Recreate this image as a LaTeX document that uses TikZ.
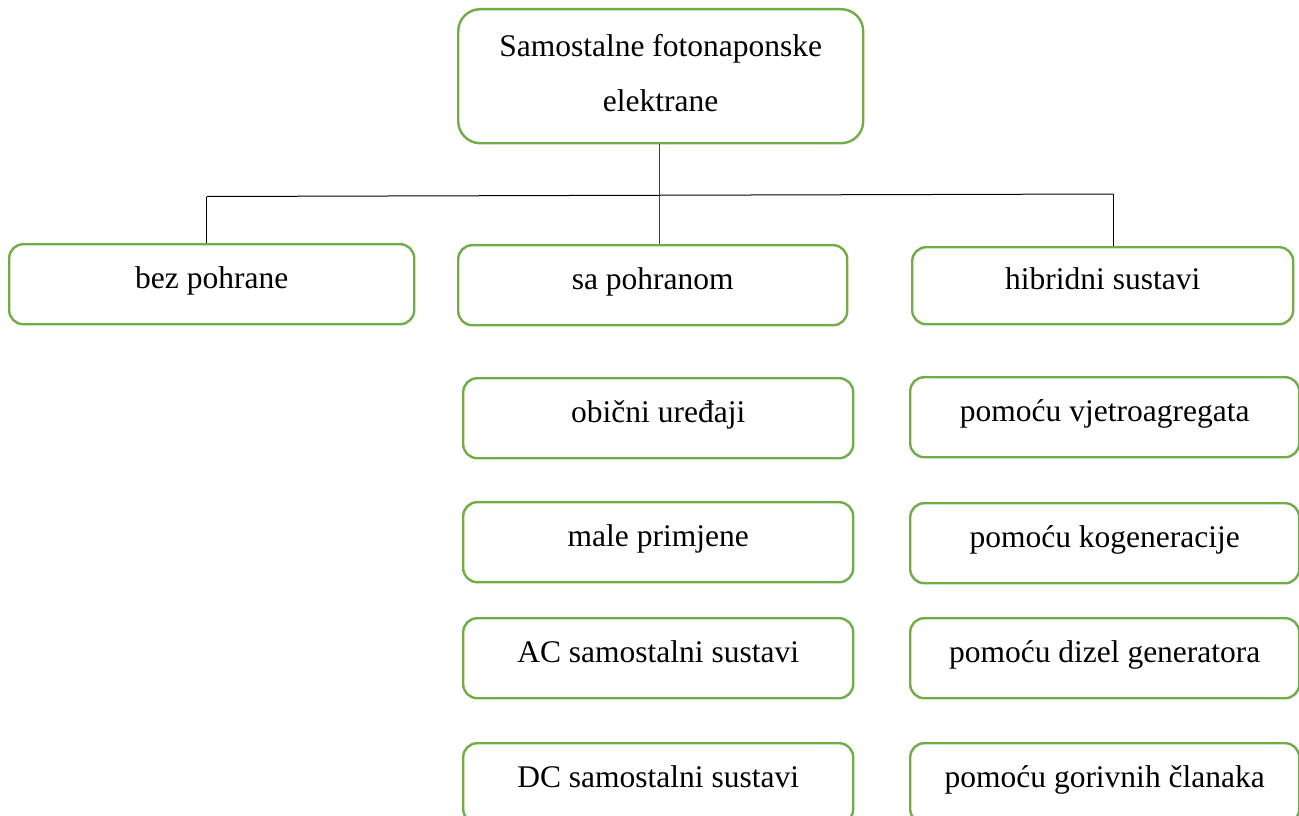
\documentclass[tikz,border=0pt]{standalone}
\usepackage{fontspec}
\setmainfont{Liberation Serif}
\definecolor{boxgreen}{HTML}{70AD47}
\begin{document}
\begin{tikzpicture}[x=1pt,y=-1pt,
  box/.style={draw=boxgreen, line width=2.4pt, rounded corners=14pt, inner sep=0pt,
    text height=44pt, text depth=36pt, anchor=north west, align=center},
  conn/.style={line width=1pt, black}]
\useasboundingbox (0,0) rectangle (1299,816);
\fontsize{31.5}{55}\selectfont
\node[box, rounded corners=22pt, minimum width=405pt, text height=102pt, text depth=32pt] (top) at (457,8) {Samostalne fotonaponske\\elektrane};
\node[box, minimum width=405pt] (bez) at (8,243) {bez pohrane};
\node[box, minimum width=389pt] (sa) at (457,244) {sa pohranom};
\node[box, minimum width=381pt, text height=42pt, text depth=35pt] (hib) at (911,246) {hibridni sustavi};
\node[box, minimum width=390pt] (ob) at (462,377) {obični uređaji};
\node[box, minimum width=390pt] (male) at (462,501) {male primjene};
\node[box, minimum width=390pt] (ac) at (462,617) {AC samostalni sustavi};
\node[box, minimum width=390pt] (dc) at (462,742) {DC samostalni sustavi};
\node[box, minimum width=389pt] (vj) at (909,376) {pomoću vjetroagregata};
\node[box, minimum width=389pt] (kog) at (909,502) {pomoću kogeneracije};
\node[box, minimum width=389pt] (diz) at (909,617) {pomoću dizel generatora};
\node[box, minimum width=389pt] (gor) at (909,742) {pomoću gorivnih članaka};
\coordinate (hl) at (206.5,196.5);
\coordinate (hr) at (1113,194);
\draw[conn] (hl) -- (hr);
\draw[conn] (hl) -- (hl |- bez.north);
\draw[conn] (hr) -- (hr |- hib.north);
\draw[conn, black!75] ([xshift=-1.5pt]top.south) -- ([xshift=-1.5pt]top.south |- sa.north);
\end{tikzpicture}
\end{document}
